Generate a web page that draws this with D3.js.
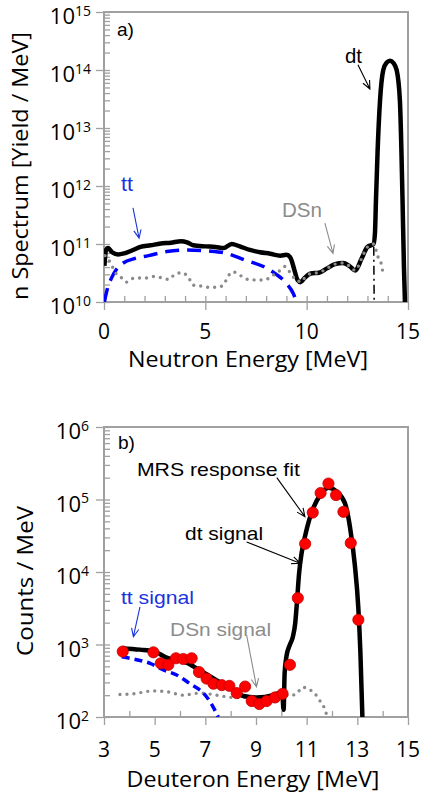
<!DOCTYPE html>
<html><head><meta charset="utf-8">
<script src="https://cdn.jsdelivr.net/npm/d3@7"></script>
<style>html,body{margin:0;padding:0;background:#fff;} svg{display:block}</style>
</head><body>
<svg id="c" width="422" height="802"></svg>
<script>
// ---------- Panel a) neutron spectrum : [energy MeV, yield/MeV] ----------
const topTotal = [[0.02,4.2e10],[0.1,7.9e10],[0.2,8.5e10],[0.4,7.2e10],[0.7,6.6e10],[1.0,6.9e10],[1.4,7.8e10],[1.8,8.9e10],[2.3,9.5e10],[2.8,1.02e11],[3.3,1.05e11],[3.8,1.12e11],[4.1,1.07e11],[4.4,9.5e10],[5.0,9.1e10],[5.5,8.9e10],[5.9,8.5e10],[6.3,1.0e11],[6.7,9.1e10],[7.2,7.9e10],[7.7,7.2e10],[8.2,6.8e10],[8.7,6.3e10],[9.0,6.5e10],[9.2,5.8e10],[9.4,3.5e10],[9.55,2.4e10],[9.7,2.2e10],[9.9,2.6e10],[10.2,3.1e10],[10.6,3.2e10],[11.0,3.8e10],[11.4,4.5e10],[11.8,4.7e10],[12.1,4.2e10],[12.4,3.5e10],[12.7,5.5e10],[13.0,8.9e10],[13.3,1.0e11],[13.37,1.55e11],[13.42,5.8e11],[13.5,4.0e12],[13.62,3.0e13],[13.78,1.0e14],[13.95,1.35e14],[14.11,1.45e14],[14.28,1.32e14],[14.44,1.0e14],[14.6,3.0e13],[14.73,5.8e11],[14.8,4.0e10],[14.85,1.0e10]];
const topTT = [[0.02,1.0e10],[0.15,1.6e10],[0.35,2.5e10],[0.6,3.6e10],[0.95,4.7e10],[1.5,5.6e10],[2.2,6.3e10],[3.1,7.4e10],[4.1,7.9e10],[5.1,7.6e10],[6.05,6.9e10],[7.0,5.2e10],[7.86,4.1e10],[8.5,3.0e10],[9.0,2.1e10],[9.34,1.4e10],[9.5,1.0e10]];
const topDSn = [[0.05,6.3e10],[0.3,4.9e10],[0.54,3.3e10],[0.87,2.6e10],[1.1,2.2e10],[1.5,2.6e10],[2.1,2.6e10],[2.45,2.75e10],[2.86,2.6e10],[3.2,2.45e10],[3.5,3.0e10],[3.87,3.2e10],[4.24,2.4e10],[4.4,1.95e10],[4.7,1.9e10],[5.14,1.8e10],[5.55,1.8e10],[5.9,1.95e10],[6.07,2.6e10],[6.38,3.3e10],[6.7,2.9e10],[7.1,2.45e10],[7.5,2.4e10],[7.94,2.4e10],[8.27,2.8e10],[8.6,3.3e10],[8.93,4.1e10],[9.1,3.5e10],[9.26,3.0e10],[9.43,2.45e10],[9.6,2.3e10],[9.7,2.2e10],[9.9,2.6e10],[10.2,3.1e10],[10.6,3.2e10],[11.0,3.8e10],[11.4,4.5e10],[11.8,4.7e10],[12.1,4.2e10],[12.4,3.5e10],[12.7,5.5e10],[13.0,8.9e10],[13.3,1.0e11],[13.52,6.0e10],[13.69,4.4e10],[13.77,3.1e10]];
const topDT = [[13.31,9.0e10],[13.33,1.0e10]];
const topXTicks = [0,5,10,15];
const topYExps = [10,11,12,13,14,15];

// ---------- Panel b) MRS deuteron spectrum : [energy MeV, counts/MeV] ----------
const botData = [[3.74,800],[4.95,780],[5.24,550],[5.54,525],[5.84,646],[6.13,631],[6.46,646],[6.75,417],[7.05,339],[7.32,288],[7.65,275],[7.95,269],[8.24,214],[8.57,263],[8.83,166],[9.13,151],[9.42,166],[9.75,186],[10.05,209],[10.34,525],[10.65,4370],[10.94,24500],[11.24,66100],[11.55,123000],[11.86,166000],[12.16,115000],[12.45,67600],[12.74,25100],[13.04,2190]];
const botFit = [[3.7,890],[4.42,850],[4.95,810],[5.47,660],[6.26,560],[6.79,440],[7.45,320],[8.11,235],[8.5,195],[9.03,186],[9.68,200],[10.03,220],[10.09,126],[10.13,400],[10.2,680],[10.34,1000],[10.45,1260],[10.55,2000],[10.62,4000],[10.7,9500],[10.8,18200],[10.94,31600],[11.1,52500],[11.26,75900],[11.53,115000],[11.86,145000],[12.18,129000],[12.51,89100],[12.71,41700],[12.9,12600],[13.04,3160],[13.12,794],[13.2,100]];
const botTT = [[3.7,676],[4.29,617],[4.82,550],[5.34,447],[5.87,380],[6.39,288],[6.92,214],[7.2,160],[7.51,100]];
const botDSn = [[3.63,204],[4.16,209],[4.95,229],[5.47,224],[6.13,200],[6.79,214],[7.45,200],[8.1,186],[8.76,186],[9.42,191],[10.08,200],[10.41,200],[10.63,214],[10.83,257],[11.1,240],[11.33,209],[11.53,166],[11.69,135],[11.79,107]];
const botXTicks = [3,5,7,9,11,13,15];
const botYExps = [2,3,4,5,6];

// ---------- annotations (data coordinates) ----------
const topLabels = [{t:"a)",e:0.64,v:3.9e14,c:"#000",fs:19,len:17},{t:"dt",e:11.89,v:1.3e14,c:"#000",fs:20,len:17},{t:"tt",e:0.84,v:8.2e11,c:"#1a33dd",fs:20,len:12},{t:"DSn",e:8.78,v:2.9e11,c:"#8c8c8c",fs:20,len:40}];
const topArrows = [{a:[12.53,1.23e14],b:[13.12,4.7e13],c:"#000"},{a:[1.43,4.2e11],b:[1.73,1.26e11],c:"#1a33dd"},{a:[10.9,2.3e11],b:[11.3,6.9e10],c:"#8c8c8c"}];
const botLabels = [{t:"b)",e:3.55,v:5.0e5,c:"#000",fs:19,len:17},{t:"MRS response fit",e:4.3,v:2.1e5,c:"#000",fs:19,len:163},{t:"dt signal",e:6.2,v:2.8e4,c:"#000",fs:19,len:78},{t:"tt signal",e:3.67,v:3.6e3,c:"#1a33dd",fs:19,len:73},{t:"DSn signal",e:5.61,v:1.3e3,c:"#8c8c8c",fs:19,len:101}];
const botArrows = [{a:[9.82,2.0e5],b:[10.93,5.8e4],c:"#000"},{a:[8.63,2.6e4],b:[10.74,1.32e4],c:"#000"},{a:[4.42,3.3e3],b:[4.16,1.28e3],c:"#1a33dd"},{a:[8.63,1.35e3],b:[9.02,2.6e2],c:"#8c8c8c"}];

const tickFont = "'Open Sans', sans-serif";
const annFont = "'Liberation Sans', Arial, sans-serif";
const frameCol = "#a0a0a0";
const svg = d3.select("#c");

function panel(cfg){
  const {x, y, id} = cfg;
  const [L,R] = x.range(); const [B,T] = y.range();
  const g = svg.append("g");
  g.append("clipPath").attr("id", id).append("rect").attr("x",L).attr("y",T).attr("width",R-L).attr("height",B-T);
  g.append("rect").attr("x",L).attr("y",T).attr("width",R-L).attr("height",B-T)
    .attr("fill","none").attr("stroke",frameCol).attr("stroke-width",2);
  const majors = cfg.yExps.map(e=>Math.pow(10,e));
  const minors = y.ticks().filter(v => !majors.some(m=>Math.abs(m-v)/m<1e-6));
  const ya = g.append("g").attr("transform",`translate(${L},0)`).call(d3.axisLeft(y).tickValues(majors).tickSize(8).tickFormat(""));
  const yb = g.append("g").attr("transform",`translate(${L},0)`).call(d3.axisLeft(y).tickValues(majors.concat(minors)).tickSize(-6).tickFormat(""));
  const xa = g.append("g").attr("transform",`translate(0,${B})`).call(d3.axisBottom(x).tickValues(cfg.xTicks).tickSize(8).tickFormat(""));
  const xb = g.append("g").attr("transform",`translate(0,${B})`).call(d3.axisBottom(x).tickValues(cfg.xMinor).tickSize(-6).tickFormat(""));
  [ya,yb,xa,xb].forEach(a=>{ a.select(".domain").remove(); a.selectAll("line").attr("stroke",frameCol).attr("stroke-width",1.3); });
  cfg.yExps.forEach(e=>{
    const ty = y(Math.pow(10,e));
    const t = g.append("text").attr("x",cfg.yLabX).attr("y",ty+12).attr("text-anchor","end")
      .attr("font-family",tickFont).attr("font-size",22).attr("fill","#000");
    t.append("tspan").text("10");
    t.append("tspan").attr("dy",-8.5).attr("font-size",14).text(String(e));
  });
  cfg.xTicks.forEach(v=>{
    g.append("text").attr("x",x(v)).attr("y",cfg.xLabY).attr("text-anchor","middle")
      .attr("font-family",tickFont).attr("font-size",21).attr("fill","#000").text(v);
  });
  g.append("text").attr("x",cfg.xTitleX).attr("y",cfg.xTitleY).attr("text-anchor","middle")
    .attr("font-family",tickFont).attr("font-size",22).attr("fill","#000")
    .attr("textLength",cfg.xTitleLen).attr("lengthAdjust","spacingAndGlyphs").text(cfg.xTitle);
  g.append("text").attr("transform",`translate(${cfg.yTitleX},${cfg.yTitleY}) rotate(-90)`).attr("text-anchor","middle")
    .attr("font-family",tickFont).attr("font-size",21).attr("fill","#000")
    .attr("textLength",cfg.yTitleLen).attr("lengthAdjust","spacingAndGlyphs").text(cfg.yTitle);
  const plot = g.append("g").attr("clip-path",`url(#${id})`);
  return {g, plot};
}

function lineGen(x,y){ return d3.line().x(d=>x(d[0])).y(d=>y(d[1])).curve(d3.curveMonotoneX); }

function arrows(g, list, x, y){
  list.forEach(a=>{
    const x1=x(a.a[0]), y1=y(a.a[1]), x2=x(a.b[0]), y2=y(a.b[1]);
    const ang=Math.atan2(y2-y1,x2-x1), L=9, w=0.42;
    const p = `M${x1},${y1}L${x2},${y2}M${x2-L*Math.cos(ang-w)},${y2-L*Math.sin(ang-w)}L${x2},${y2}L${x2-L*Math.cos(ang+w)},${y2-L*Math.sin(ang+w)}`;
    g.append("path").attr("d",p).attr("fill","none").attr("stroke",a.c).attr("stroke-width",1.1);
  });
}
function labels(g, list, x, y){
  list.forEach(l=>{
    const t = g.append("text").attr("x",x(l.e)).attr("y",y(l.v)).attr("font-family",annFont)
      .attr("font-size",l.fs).attr("fill",l.c).text(l.t);
    if(l.len) t.attr("textLength",l.len).attr("lengthAdjust","spacingAndGlyphs");
  });
}

// ================= Panel a =================
const xA = d3.scaleLinear().domain([0,15]).range([104,408]);
const yA = d3.scaleLog().domain([1e10,1e15]).range([302,12]);
const pa = panel({x:xA,y:yA,id:"clipA",yExps:topYExps,xTicks:topXTicks,xMinor:d3.range(1,15),
  yLabX:91,xLabY:339,xTitle:"Neutron Energy [MeV]",xTitleX:248,xTitleY:367,xTitleLen:240,
  yTitle:"n Spectrum [Yield / MeV]",yTitleX:28,yTitleY:166,yTitleLen:268});
const lA = lineGen(xA,yA);
pa.plot.append("path").datum(topTotal).attr("d",lA).attr("fill","none").attr("stroke","#000").attr("stroke-width",4.5).attr("stroke-linejoin","round");
pa.plot.append("path").datum(topTT).attr("d",lA).attr("fill","none").attr("stroke","#0000ff").attr("stroke-width",3.5).attr("stroke-dasharray","14 8");
pa.plot.append("path").datum(topDSn).attr("d",lA).attr("fill","none").attr("stroke","#8a8a8a").attr("stroke-width",3.4).attr("stroke-dasharray","0 7").attr("stroke-linecap","round");
pa.plot.append("path").datum(topDT).attr("d",d3.line().x(d=>xA(d[0])).y(d=>yA(d[1]))).attr("fill","none").attr("stroke","#000").attr("stroke-width",1.5).attr("stroke-dasharray","9 4 2 4");
labels(pa.g, topLabels, xA, yA);
arrows(pa.g, topArrows, xA, yA);

// ================= Panel b =================
const xB = d3.scaleLinear().domain([3,15]).range([104,408]);
const yB = d3.scaleLog().domain([1e2,1e6]).range([717,427]);
const pb = panel({x:xB,y:yB,id:"clipB",yExps:botYExps,xTicks:botXTicks,xMinor:[4,6,8,10,12,14],
  yLabX:89,xLabY:757,xTitle:"Deuteron Energy [MeV]",xTitleX:253,xTitleY:787,xTitleLen:253,
  yTitle:"Counts / MeV",yTitleX:33,yTitleY:581,yTitleLen:150});
const lB = lineGen(xB,yB);
pb.plot.append("path").datum(botDSn).attr("d",lB).attr("fill","none").attr("stroke","#8a8a8a").attr("stroke-width",3.4).attr("stroke-dasharray","0 7").attr("stroke-linecap","round");
pb.plot.append("path").datum(botTT).attr("d",lB).attr("fill","none").attr("stroke","#0000ff").attr("stroke-width",3.5).attr("stroke-dasharray","8 5");
pb.plot.append("path").datum(botFit).attr("d",lB).attr("fill","none").attr("stroke","#000").attr("stroke-width",4.5).attr("stroke-linejoin","round");
pb.plot.selectAll("circle").data(botData).join("circle").attr("cx",d=>xB(d[0])).attr("cy",d=>yB(d[1])).attr("r",5.6)
  .attr("fill","#ff0000").attr("stroke","#c00000").attr("stroke-width",0.8);
labels(pb.g, botLabels, xB, yB);
arrows(pb.g, botArrows, xB, yB);
</script></body></html>
